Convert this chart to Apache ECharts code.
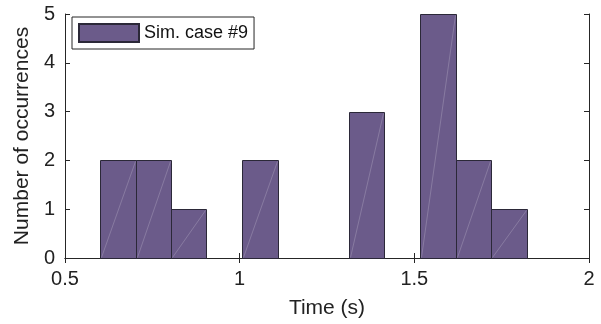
<!DOCTYPE html>
<html>
<head>
<meta charset="utf-8">
<script src="https://cdn.jsdelivr.net/npm/echarts@6/dist/echarts.min.js"></script>
<style>html,body{margin:0;padding:0;background:#fff;}#c{width:601px;height:324px;}</style>
</head>
<body>
<div id="c"></div>
<script>
const binEdges = [0.6, 0.702, 0.804, 0.905, 1.007, 1.109, 1.211, 1.313, 1.414, 1.516, 1.618, 1.720, 1.822];
const counts = [2, 2, 1, 0, 2, 0, 0, 3, 0, 5, 2, 1];
const xTicks = [0.5, 1, 1.5, 2];
const yTicks = [0, 1, 2, 3, 4, 5];
const seriesName = 'Sim. case #9';

const FILL = '#6b5b8a';
const EDGE = '#2b2838';
const AX = '#262626';
const FONT = "'Liberation Sans', Arial, Helvetica, sans-serif";

const data = counts.map((c, i) => [binEdges[i], binEdges[i + 1], c]);

const chart = echarts.init(document.getElementById('c'), null, {renderer: 'canvas'});
const axisCommon = {
  axisLine: {show: true, lineStyle: {color: AX, width: 1}},
  axisTick: {show: true, inside: true, length: 5, lineStyle: {color: AX, width: 1}},
  splitLine: {show: false}
};
chart.setOption({
  animation: false,
  backgroundColor: '#fff',
  grid: {left: 65, right: 12, top: 14, bottom: 64},
  legend: {
    show: true, left: 72, top: 17,
    data: [seriesName],
    icon: 'rect', itemWidth: 60, itemHeight: 18, itemGap: 5,
    padding: [6, 6, 6, 6],
    borderColor: AX, borderWidth: 1, backgroundColor: '#fff',
    textStyle: {fontFamily: FONT, fontSize: 18, color: '#111'}
  },
  xAxis: [
    Object.assign({
      type: 'value', min: xTicks[0], max: xTicks[xTicks.length - 1], interval: 0.5, position: 'bottom',
      axisLabel: {show: true, fontFamily: FONT, fontSize: 20, color: '#222', margin: 11,
        formatter: v => String(v)},
      name: 'Time (s)', nameLocation: 'middle', nameGap: 40,
      nameTextStyle: {fontFamily: FONT, fontSize: 21, color: '#222'}
    }, axisCommon),
    Object.assign({
      type: 'value', min: xTicks[0], max: xTicks[xTicks.length - 1], interval: 0.5, position: 'top',
      axisLabel: {show: false}
    }, axisCommon)
  ],
  yAxis: [
    Object.assign({
      type: 'value', min: yTicks[0], max: yTicks[yTicks.length - 1], interval: 1, position: 'left',
      axisLabel: {show: true, fontFamily: FONT, fontSize: 20, color: '#222', margin: 10},
      name: 'Number of occurrences', nameLocation: 'middle', nameGap: 26,
      nameTextStyle: {fontFamily: FONT, fontSize: 21, color: '#222'}
    }, axisCommon),
    Object.assign({
      type: 'value', min: yTicks[0], max: yTicks[yTicks.length - 1], interval: 1, position: 'right',
      axisLabel: {show: false}
    }, axisCommon)
  ],
  series: [{
    type: 'custom',
    name: seriesName,
    xAxisIndex: 0, yAxisIndex: 0,
    itemStyle: {color: FILL, borderColor: EDGE, borderWidth: 1},
    encode: {x: [0, 1], y: 2},
    data: data,
    renderItem: function (params, api) {
      const x0 = api.value(0), x1 = api.value(1), c = api.value(2);
      if (!c) return null;
      const p0 = api.coord([x0, 0]);
      const p1 = api.coord([x1, c]);
      const x = Math.round(p0[0]) + 0.5, xr = Math.round(p1[0]) + 0.5;
      const yb = Math.round(p0[1]) + 0.5, yt = Math.round(p1[1]) + 0.5;
      return {
        type: 'group',
        children: [
          {type: 'rect', shape: {x: x, y: yt, width: xr - x, height: yb - yt},
            style: {fill: FILL, stroke: EDGE, lineWidth: 1}},
          {type: 'line', shape: {x1: x + 1, y1: yb - 1, x2: xr - 1, y2: yt + 1},
            style: {stroke: 'rgba(255,255,255,0.28)', lineWidth: 0.7}}
        ]
      };
    }
  }]
});
</script>
</body>
</html>
